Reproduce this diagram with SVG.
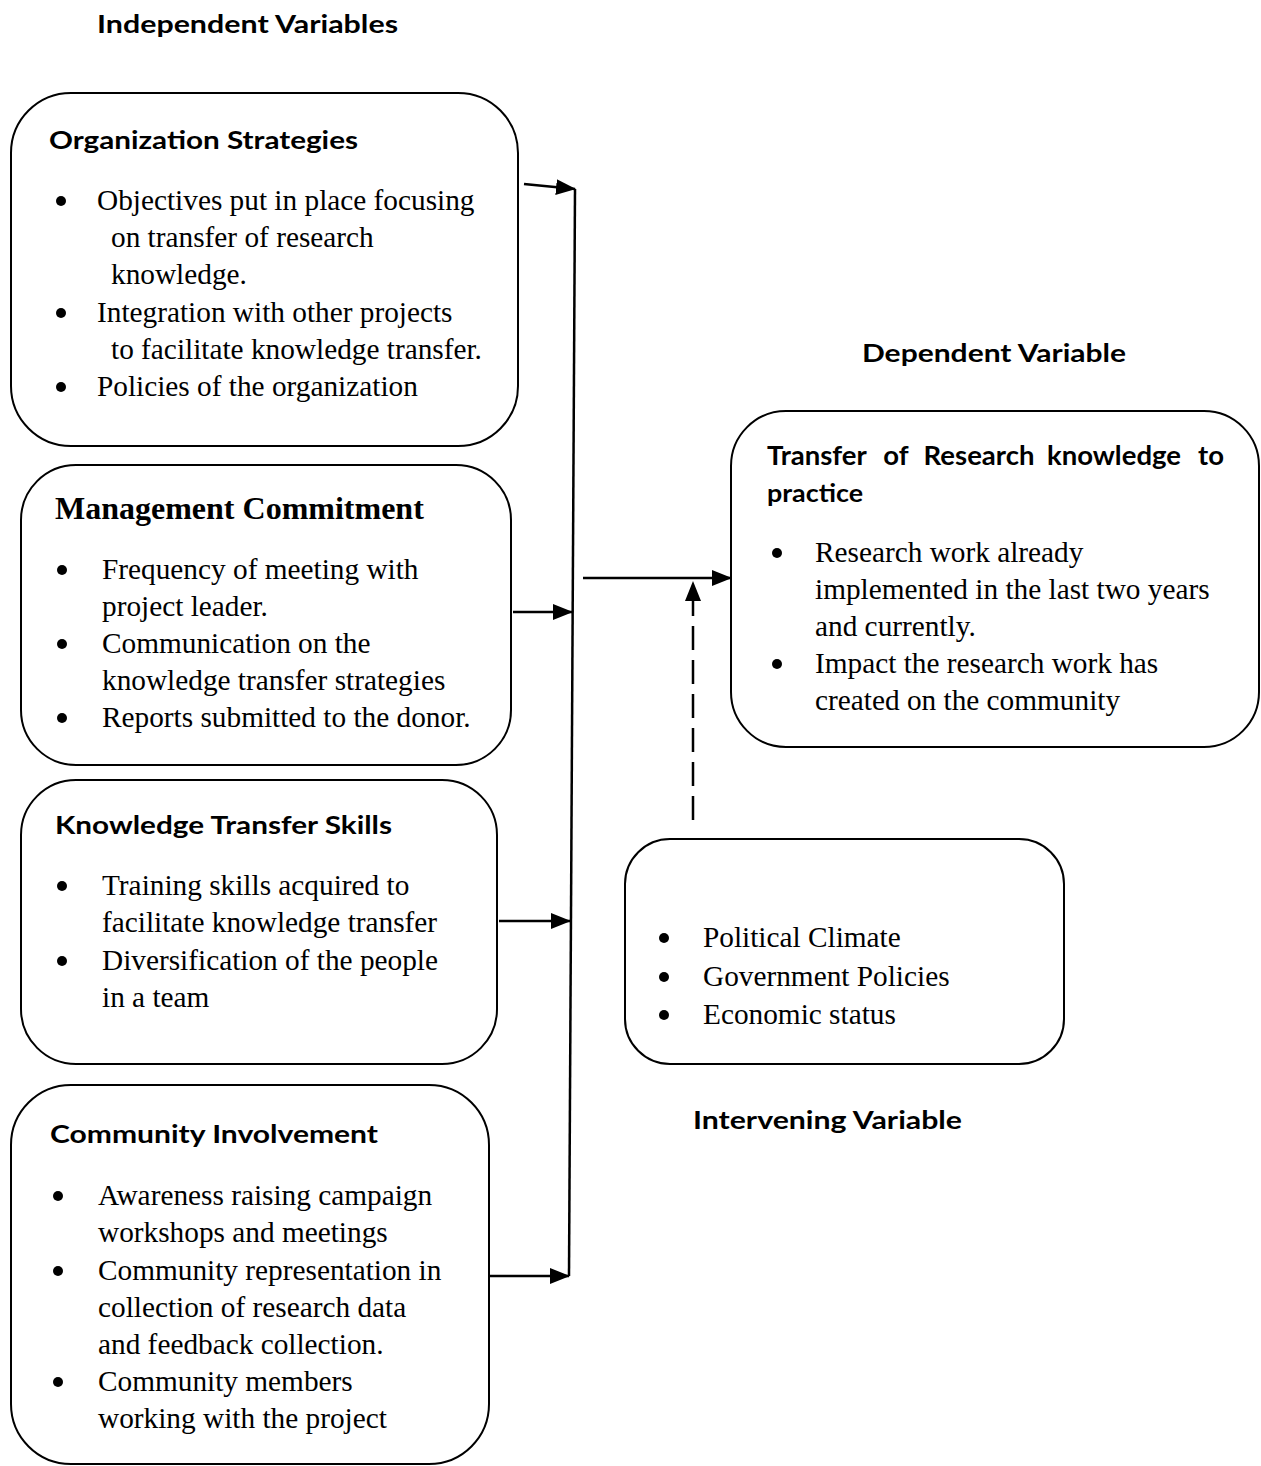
<svg xmlns="http://www.w3.org/2000/svg" width="1261" height="1466" viewBox="0 0 1261 1466">
<style>
.box{fill:#fff;stroke:#000;stroke-width:2}
.h{font-family:Lato,"Open Sans",sans-serif;font-weight:bold;font-size:25px;fill:#000}
.h2{font-family:Lato,"Open Sans",sans-serif;font-weight:bold;font-size:27.5px;fill:#000}
.t{font-family:"Liberation Serif","Times New Roman",serif;font-size:29.3px;fill:#000}
.hb{font-family:"Liberation Serif","Times New Roman",serif;font-weight:bold;font-size:32px;fill:#000}
.ln{stroke:#000;stroke-width:2.5;fill:none}
</style>
<defs>
<marker id="ah" markerUnits="userSpaceOnUse" markerWidth="20" markerHeight="16" refX="19" refY="8" orient="auto">
<path d="M0,0 L20,8 L0,16 Z" fill="#000"/>
</marker>
<symbol id="dot" overflow="visible"><circle cx="0" cy="0" r="5" fill="#000"/></symbol>
</defs>
<rect width="1261" height="1466" fill="#fff"/>

<text class="h" x="97" y="33" textLength="301" lengthAdjust="spacingAndGlyphs">Independent Variables</text>
<text class="h" x="862" y="362" textLength="264" lengthAdjust="spacingAndGlyphs">Dependent Variable</text>
<text class="h" x="693" y="1129" textLength="269" lengthAdjust="spacingAndGlyphs">Intervening Variable</text>

<g id="org">
<rect class="box" x="11" y="93" width="507" height="353" rx="60" ry="60"/>
<text class="h" x="49" y="149" textLength="309" lengthAdjust="spacingAndGlyphs">Organization Strategies</text>
<use href="#dot" x="61" y="201"/>
<text class="t" x="97" y="210">Objectives put in place focusing</text>
<text class="t" x="111" y="247">on transfer of research</text>
<text class="t" x="111" y="284">knowledge.</text>
<use href="#dot" x="61" y="313"/>
<text class="t" x="97" y="322">Integration with other projects</text>
<text class="t" x="111" y="359">to facilitate knowledge transfer.</text>
<use href="#dot" x="61" y="387"/>
<text class="t" x="97" y="396">Policies of the organization</text>
</g>

<g id="mgmt">
<rect class="box" x="21" y="465" width="490" height="300" rx="55" ry="55"/>
<text class="hb" x="55" y="519">Management Commitment</text>
<use href="#dot" x="62" y="570"/>
<text class="t" x="102" y="579">Frequency of meeting with</text>
<text class="t" x="102" y="616">project leader.</text>
<use href="#dot" x="62" y="644"/>
<text class="t" x="102" y="653">Communication on the</text>
<text class="t" x="102" y="690">knowledge transfer strategies</text>
<use href="#dot" x="62" y="718"/>
<text class="t" x="102" y="727">Reports submitted to the donor.</text>
</g>

<g id="kts">
<rect class="box" x="21" y="780" width="476" height="284" rx="55" ry="55"/>
<text class="h" x="55" y="834" textLength="337" lengthAdjust="spacingAndGlyphs">Knowledge Transfer Skills</text>
<use href="#dot" x="62" y="886"/>
<text class="t" x="102" y="895">Training skills acquired to</text>
<text class="t" x="102" y="932">facilitate knowledge transfer</text>
<use href="#dot" x="62" y="961"/>
<text class="t" x="102" y="970">Diversification of the people</text>
<text class="t" x="102" y="1007">in a team</text>
</g>

<g id="community">
<rect class="box" x="11" y="1085" width="478" height="379" rx="60" ry="60"/>
<text class="h" x="50" y="1143" textLength="328" lengthAdjust="spacingAndGlyphs">Community Involvement</text>
<use href="#dot" x="58" y="1196"/>
<text class="t" x="98" y="1205">Awareness raising campaign</text>
<text class="t" x="98" y="1242">workshops and meetings</text>
<use href="#dot" x="58" y="1271"/>
<text class="t" x="98" y="1280">Community representation in</text>
<text class="t" x="98" y="1317">collection of research data</text>
<text class="t" x="98" y="1354">and feedback collection.</text>
<use href="#dot" x="58" y="1382"/>
<text class="t" x="98" y="1391">Community members</text>
<text class="t" x="98" y="1428">working with the project</text>
</g>

<g id="transfer">
<rect class="box" x="731" y="411" width="528" height="336" rx="55" ry="55"/>
<text class="h2" x="767" y="465">Transfer</text>
<text class="h2" x="896" y="465" text-anchor="middle">of</text>
<text class="h2" x="979" y="465" text-anchor="middle">Research</text>
<text class="h2" x="1114" y="465" text-anchor="middle">knowledge</text>
<text class="h2" x="1224" y="465" text-anchor="end">to</text>
<text class="h" x="767" y="502" textLength="96" lengthAdjust="spacingAndGlyphs">practice</text>
<use href="#dot" x="777" y="553"/>
<text class="t" x="815" y="562">Research work already</text>
<text class="t" x="815" y="599">implemented in the last two years</text>
<text class="t" x="815" y="636">and currently.</text>
<use href="#dot" x="777" y="664"/>
<text class="t" x="815" y="673">Impact the research work has</text>
<text class="t" x="815" y="710">created on the community</text>
</g>

<g id="intervening">
<rect class="box" x="625" y="839" width="439" height="225" rx="45" ry="45"/>
<use href="#dot" x="664" y="938"/>
<text class="t" x="703" y="947">Political Climate</text>
<use href="#dot" x="664" y="977"/>
<text class="t" x="703" y="986">Government Policies</text>
<use href="#dot" x="664" y="1015"/>
<text class="t" x="703" y="1024">Economic status</text>
</g>

<g id="connectors">
<line class="ln" x1="575" y1="189" x2="569" y2="1276"/>
<line class="ln" x1="524" y1="184" x2="575" y2="189" marker-end="url(#ah)"/>
<line class="ln" x1="513" y1="612" x2="572" y2="612" marker-end="url(#ah)"/>
<line class="ln" x1="499" y1="921" x2="570" y2="921" marker-end="url(#ah)"/>
<line class="ln" x1="489" y1="1276" x2="569" y2="1276" marker-end="url(#ah)"/>
<line class="ln" x1="583" y1="578" x2="731" y2="578" marker-end="url(#ah)"/>
<line class="ln" x1="693" y1="820" x2="693" y2="582" stroke-dasharray="24,10" marker-end="url(#ah)"/>
</g>
</svg>
